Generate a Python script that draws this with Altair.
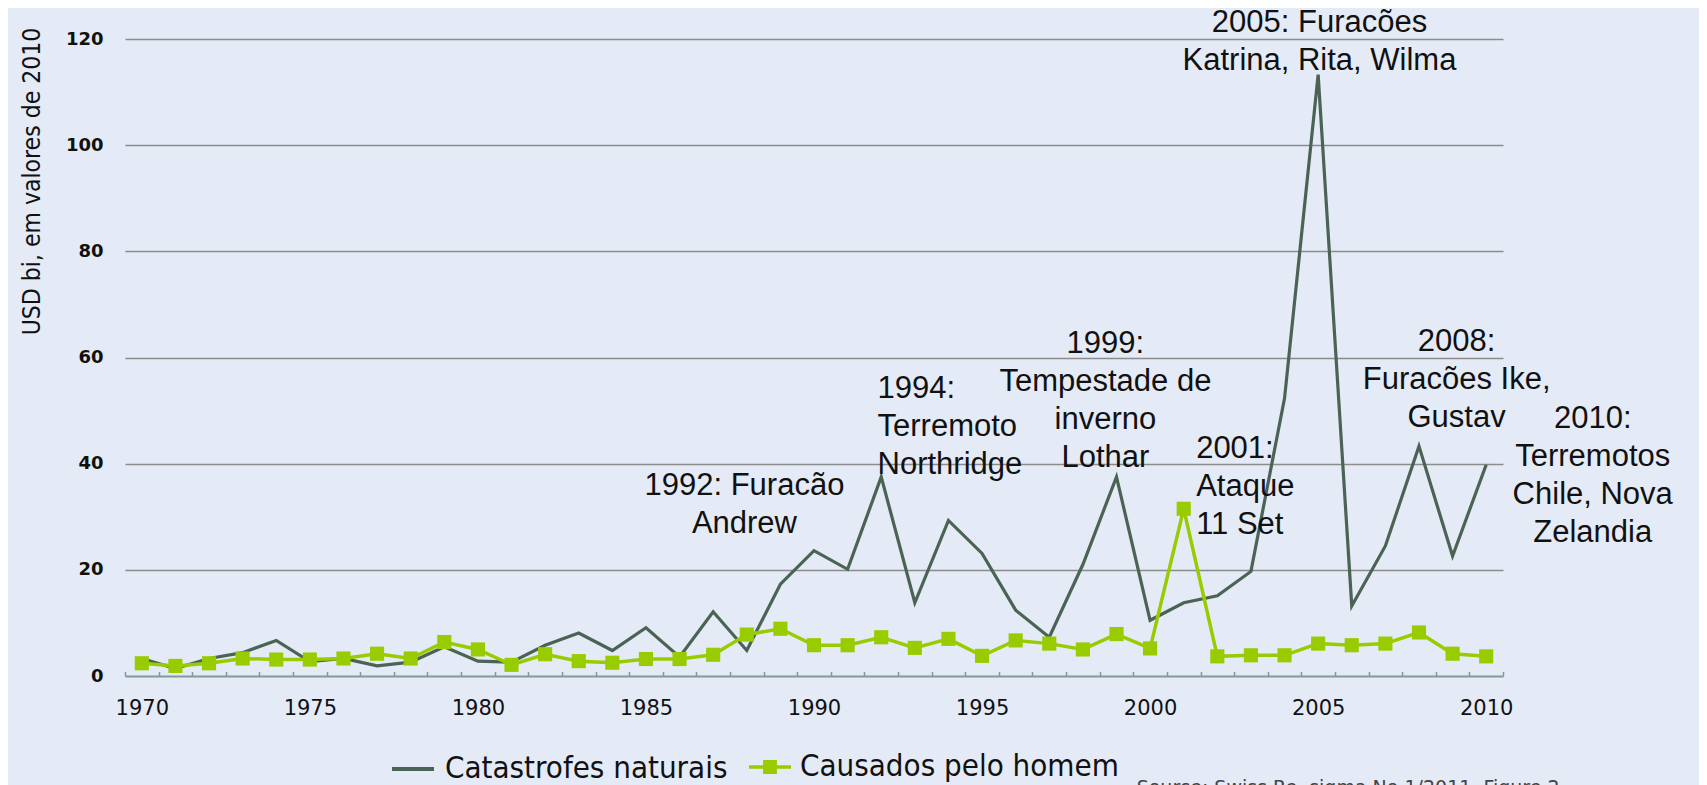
import altair as alt
import pandas as pd

# ---------------- data ----------------
years = list(range(1970, 2011))
natural = [3.3, 1.4, 3.3, 4.4, 6.7, 2.7, 3.3, 1.9, 2.6, 5.5,
           2.8, 2.6, 5.8, 8.1, 4.8, 9.1, 3.6, 12.1, 4.8, 17.3,
           23.6, 20.1, 37.5, 13.8, 29.3, 23.1, 12.4, 7.3, 21.0, 37.5,
           10.5, 13.8, 15.1, 19.7, 52.3, 113.3, 13.2, 24.5, 43.3, 22.6,
           39.8]
manmade = [2.4, 1.9, 2.4, 3.3, 3.1, 3.1, 3.3, 4.2, 3.3, 6.4,
           5.0, 2.1, 4.1, 2.8, 2.5, 3.2, 3.2, 4.0, 7.8, 8.9,
           5.8, 5.8, 7.3, 5.3, 7.0, 3.8, 6.7, 6.1, 5.0, 7.9,
           5.2, 31.5, 3.7, 3.9, 3.9, 6.1, 5.8, 6.1, 8.2, 4.2,
           3.7]
series_names = ["Catastrofes naturais", "Causados pelo homem"]
y_ticks = [0, 20, 40, 60, 80, 100, 120]
x_tick_positions = [1969.5 + i for i in range(42)]

# annotations (anchor in data units: year, value of first-line baseline)
ann_center_x = [1987.93, 1998.67, 2005.04, 2009.12, 2013.17]
ann_center_y = [34.1, 60.85, 121.3, 61.27, 46.7]
ann_center_text = [
    ["1992: Furacão", "Andrew"],
    ["1999:", "Tempestade de", "inverno", "Lothar"],
    ["2005: Furacões", "Katrina, Rita, Wilma"],
    ["2008:", "Furacões Ike,", "Gustav"],
    ["2010:", "Terremotos", "Chile, Nova", "Zelandia"],
]
ann_left_x = [1991.89, 2001.37]
ann_left_y = [52.4, 41.07]
ann_left_text = [
    ["1994:", "Terremoto", "Northridge"],
    ["2001:", "Ataque", "11 Set"],
]
source_x = [1999.6]
source_y = [-22.2]
source_text = ["Source:  Swiss  Re,  sigma  No  1/2011,  Figure  2"]

# ---------------- styling ----------------
DARK = "#4a6354"
GREEN = "#99cc00"
BG = "#e4ebf6"
NARROW = "'Liberation Sans Narrow', 'DejaVu Sans Condensed', 'Liberation Sans', sans-serif"
ANN_FONT = "'Liberation Sans', Arial, sans-serif"

nat_df = pd.DataFrame({"year": years, "value": natural, "series": series_names[0]})
hum_df = pd.DataFrame({"year": years, "value": manmade, "series": series_names[1]})
annc_df = pd.DataFrame({"year": ann_center_x, "value": ann_center_y, "text": ann_center_text})
annl_df = pd.DataFrame({"year": ann_left_x, "value": ann_left_y, "text": ann_left_text})
src_df = pd.DataFrame({"year": source_x, "value": source_y, "text": source_text})

x_scale = alt.Scale(domain=[1969.5, 2010.5], nice=False, zero=False)
y_scale = alt.Scale(domain=[0, 120], nice=False)

x_axis = alt.Axis(
    values=x_tick_positions,
    labelExpr="(datum.value + 0.5) % 5 == 0 ? format(datum.value + 0.5, 'd') : ''",
    labelOffset=16.8,
    labelFont="DejaVu Sans",
    labelFontSize=21,
    labelColor="#111111",
    labelBaseline="alphabetic",
    labelPadding=38.5,
    labelOverlap=False,
    labelFlush=False,
    tickSize=4.5,
    tickColor="#7f9a9a",
    tickWidth=1.5,
    offset=-4.5,
    domain=False,
    grid=False,
    title=None,
)

y_axis = alt.Axis(
    values=y_ticks,
    labelFont="DejaVu Sans",
    labelFontWeight="bold",
    labelFontSize=18,
    labelColor="#111111",
    labelPadding=22,
    ticks=False,
    domain=False,
    grid=True,
    gridColor={"condition": {"test": "datum.value === 0", "value": "#7f9a9a"}, "value": "#8c8c8c"},
    gridWidth={"condition": {"test": "datum.value === 0", "value": 2}, "value": 1.3},
    title="USD bi, em valores de 2010",
    titleFont=NARROW,
    titleFontSize=24.5,
    titleFontWeight="normal",
    titleColor="#111111",
    titleAngle=-90,
    titleX=-93,
    titleY=142,
    titleAlign="center",
    titleBaseline="middle",
)

X = alt.X("year:Q", scale=x_scale, axis=x_axis)
Y = alt.Y("value:Q", scale=y_scale, axis=y_axis)

legend_common = dict(
    orient="none",
    title=None,
    padding=0,
    labelFont=NARROW,
    labelFontSize=31,
    labelColor="#111111",
    labelOffset=9,
    symbolSize=1764,
    labelLimit=0,
)

nat_line = alt.Chart(nat_df).mark_line(strokeWidth=3.2).encode(
    x=X,
    y=Y,
    color=alt.Color(
        "series:N",
        scale=alt.Scale(domain=[series_names[0]], range=[DARK]),
        legend=alt.Legend(legendX=265, legendY=707, symbolType="stroke",
                          symbolStrokeWidth=4, **legend_common),
    ),
)

hum_line = alt.Chart(hum_df).mark_line(color=GREEN, strokeWidth=3.5).encode(x=X, y=Y)

hum_pts = alt.Chart(hum_df).mark_point(shape="square", filled=True, size=200, opacity=1).encode(
    x=X,
    y=Y,
    color=alt.Color(
        "series:N",
        scale=alt.Scale(domain=[series_names[1]], range=[GREEN]),
        legend=alt.Legend(
            legendX=624, legendY=707,
            symbolType="M-1,-0.08H1V0.08H-1Z M-0.33,-0.33H0.33V0.33H-0.33Z",
            symbolStrokeWidth=0, symbolOpacity=1,
            **legend_common,
        ),
    ),
)

text_style = dict(baseline="alphabetic", font=ANN_FONT, fontSize=31,
                  lineHeight=38, color="#111111")

ann_c = alt.Chart(annc_df).mark_text(align="center", **text_style).encode(
    x=X, y=Y, text="text",
)

ann_l = alt.Chart(annl_df).mark_text(align="left", **text_style).encode(
    x=X, y=Y, text="text",
)

src = alt.Chart(src_df).mark_text(
    align="left", baseline="alphabetic", font="DejaVu Sans", fontSize=19,
    color="#444444",
).encode(x=X, y=Y, text="text")

chart = (
    alt.layer(nat_line, hum_line, hum_pts, ann_c, ann_l, src)
    .resolve_scale(color="independent")
    .properties(
        width=1378,
        height=637,
        autosize=alt.AutoSizeParams(type="none"),
        padding={"left": 117, "top": 31, "right": 196, "bottom": 109},
        background=BG,
        usermeta={"embedOptions": {"defaultStyle": "html, body { background: #e4ebf6 !important; }"}},
    )
    .configure_view(stroke=None)
)

chart.save("out.html", embed_options={"renderer": "svg", "actions": False})
